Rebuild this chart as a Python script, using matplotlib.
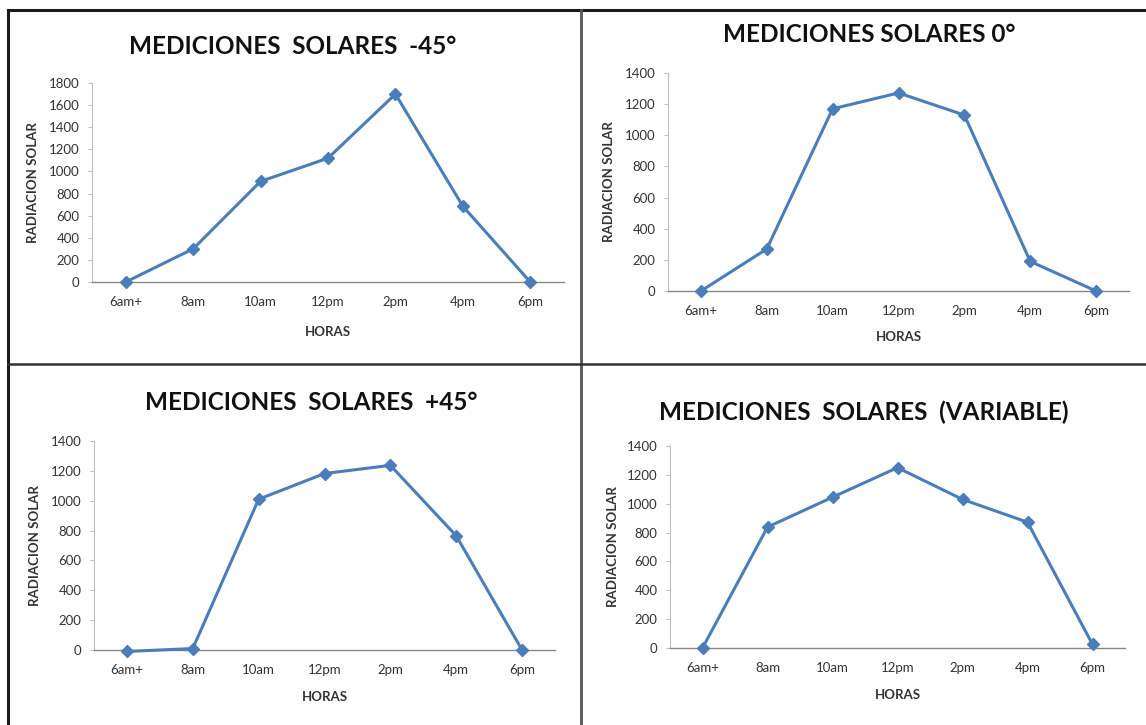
import matplotlib
matplotlib.use("Agg")
import matplotlib.pyplot as plt
from matplotlib.lines import Line2D

plt.rcParams['font.family'] = ['Lato', 'DejaVu Sans']

W, H = 1146, 725

# datos
horas = ["6am+", "8am", "10am", "12pm", "2pm", "4pm", "6pm"]
rad_menos45 = [0, 300, 910, 1120, 1700, 685, 0]
rad_cero = [0, 270, 1170, 1272, 1130, 190, 0]
rad_mas45 = [-10, 10, 1010, 1182, 1237, 765, 0]
rad_variable = [0, 838, 1045, 1250, 1030, 872, 25]

titulos = ["MEDICIONES  SOLARES  -45°", "MEDICIONES SOLARES 0°",
           "MEDICIONES  SOLARES  +45°", "MEDICIONES  SOLARES  (VARIABLE)"]
series = [rad_menos45, rad_cero, rad_mas45, rad_variable]
ymax = [1800, 1400, 1400, 1400]

# posiciones en pixeles: izq, der, y(0), y(max), centro titulo, x etiqueta y, y etiqueta x
cajas = [
    (92, 564, 282, 83, (293, 47), 33, 332),
    (668, 1129, 291, 73, (869, 35), 609, 337),
    (94, 555, 650, 441, (311, 403), 35, 697),
    (670, 1125, 648, 446, (864, 412), 613, 695),
]

azul = "#4A7EBB"

fig = plt.figure(figsize=(W / 100, H / 100), dpi=100)
fig.patch.set_facecolor("white")

for (l, r, b, t, tc, ylx, xly), tit, vals, ym in zip(cajas, titulos, series, ymax):
    ax = fig.add_axes([l / W, 1 - b / H, (r - l) / W, (b - t) / H])
    x = list(range(len(horas)))
    ax.plot(x, vals, color=azul, lw=2.2, marker="D", ms=6.5,
            mfc=azul, mec=azul, clip_on=False, zorder=3)
    ax.set_xlim(-0.5, 6.5)
    ax.set_ylim(0, ym)
    ax.set_yticks(range(0, ym + 1, 200))
    ax.set_xticks(x)
    ax.set_xticklabels(horas)
    for s in ["top", "right"]:
        ax.spines[s].set_visible(False)
    ax.spines["left"].set_color("#BFBFBF")
    ax.spines["bottom"].set_color("#868686")
    ax.spines["left"].set_linewidth(0.8)
    ax.spines["bottom"].set_linewidth(1.0)
    ax.tick_params(axis="y", length=3, color="#BFBFBF", labelsize=9.5,
                   labelcolor="#333333", pad=6)
    ax.tick_params(axis="x", length=0, labelsize=9.5, labelcolor="#333333", pad=10)
    ax.set_ylabel("RADIACION SOLAR", fontsize=9.5, fontweight="bold", color="#333333")
    ax.set_xlabel("HORAS", fontsize=9.5, fontweight="bold", color="#333333")
    ax.yaxis.set_label_coords((ylx - l) / (r - l), 0.5)
    ax.xaxis.set_label_coords(0.5, -(xly - b) / (b - t))
    # etiquetas centradas en su posicion
    ax.yaxis.label.set_verticalalignment("center")
    ax.xaxis.label.set_verticalalignment("center")
    fig.text(tc[0] / W, 1 - tc[1] / H, tit, ha="center", va="center",
             fontsize=17.5, fontweight="bold", color="#111111")

# bordes de la tabla
borde = dict(color="#1a1a1a", lw=2.2)
fig.add_artist(Line2D([8 / W, 1], [1 - 10 / H, 1 - 10 / H], **borde))
fig.add_artist(Line2D([8 / W, 8 / W], [0, 1 - 10 / H], **borde))
fig.add_artist(Line2D([581 / W, 581 / W], [0, 1 - 10 / H], color="#555555", lw=2.0))
fig.add_artist(Line2D([8 / W, 1], [1 - 364 / H, 1 - 364 / H], color="#333333", lw=1.8))

fig.savefig("out.png", dpi=100)
